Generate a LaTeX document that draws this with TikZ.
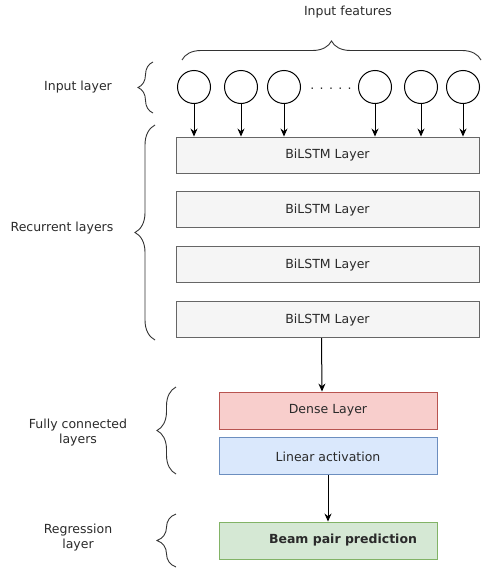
\documentclass[tikz,border=0pt]{standalone}
\usepackage{fontspec}
\setmainfont{DejaVu Sans}
\usetikzlibrary{arrows.meta, positioning, decorations.pathreplacing}
\definecolor{txtgray}{HTML}{2A2A2A}
\definecolor{lstmfill}{HTML}{F5F5F5}
\definecolor{lstmdraw}{HTML}{666666}
\definecolor{densefill}{HTML}{F8CECC}
\definecolor{densedraw}{HTML}{B85450}
\definecolor{linfill}{HTML}{DAE8FC}
\definecolor{lindraw}{HTML}{6C8EBF}
\definecolor{outfill}{HTML}{D5E8D4}
\definecolor{outdraw}{HTML}{82B366}

\begin{document}
\begin{tikzpicture}[
				x=1pt, y=-1pt,
				every node/.style={font=\fontsize{12.5}{15}\selectfont, text=txtgray},
				feat/.style={circle, draw=black, line width=1pt, minimum size=33pt, inner sep=0pt},
				lstm/.style={rectangle, draw=lstmdraw, fill=lstmfill, line width=0.9pt, minimum width=303pt, minimum height=36pt},
				fcbox/.style={rectangle, line width=0.9pt, minimum width=218pt, minimum height=37pt},
				arr/.style={draw, line width=1pt, -{Stealth[length=8pt, width=7pt]}},
				brace/.style={draw=black!80, line width=0.9pt, decorate, decoration={brace, amplitude=#1}},
				grouplabel/.style={align=center}
			]
			\useasboundingbox (0,0) rectangle (482,570);

			\node (infeat) at (348,12) {Input features};
			\draw[brace=19pt] (182,60) -- (481,60);

			\node[lstm] (lstm1) at (327.5,155) {BiLSTM Layer};
			\node[lstm, below=18pt of lstm1] (lstm2) {BiLSTM Layer};
			\node[lstm, below=18pt of lstm2] (lstm3) {BiLSTM Layer};
			\node[lstm, below=18pt of lstm3] (lstm4) {BiLSTM Layer};

			\foreach \x [count=\i] in {194,241,284,375,421,463} {
					\node[feat] (c\i) at (\x,87) {};
					\draw[arr] (c\i.south) -- (c\i.south |- lstm1.north);
				}
			\node (dots) at (331,89) {. . . . .};

			\node[fcbox, draw=densedraw, fill=densefill] (dense) at (328,410.5) {Dense Layer};
			\node[fcbox, draw=lindraw, fill=linfill, below=8pt of dense] (lin) {Linear activation};
			\node[fcbox, draw=outdraw, fill=outfill] (beam) at (328,540.5) {\hspace{30pt}\bfseries Beam pair prediction};

			\draw[arr] ([xshift=-6pt]lstm4.south) -- ([xshift=-6pt]dense.north);
			\draw[arr] (lin.south) -- (beam.north);

			\draw[brace=15pt] (153,113) -- (153,62);
			\node[grouplabel] (lbin) at (78,87) {Input layer};
			\draw[brace=20pt] (155,340) -- (155,125);
			\node[grouplabel] (lbrec) at (62,228) {Recurrent layers};
			\draw[brace=19pt] (176,474) -- (176,387);
			\node[grouplabel] (lbfc) at (78,433) {Fully connected\\layers};
			\draw[brace=19pt] (176,567) -- (176,514);
			\node[grouplabel] (lbreg) at (78,538) {Regression\\layer};
		\end{tikzpicture}
\end{document}
